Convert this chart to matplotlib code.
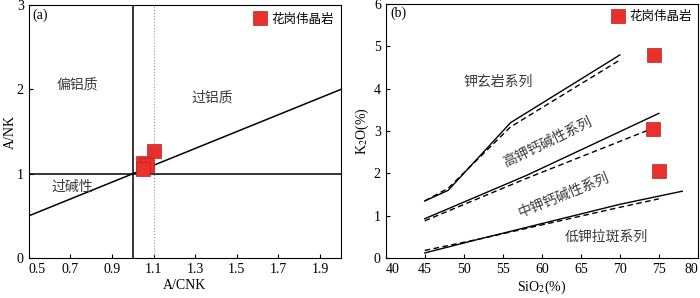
import numpy as np
import matplotlib
matplotlib.use('Agg')
import matplotlib.pyplot as plt

plt.rcParams['font.family'] = ['Liberation Serif', 'Noto Sans CJK SC']
plt.rcParams['mathtext.fontset'] = 'stix'
plt.rcParams['xtick.direction'] = 'in'
plt.rcParams['ytick.direction'] = 'in'

CJK = ['Noto Sans CJK SC', 'DejaVu Sans']
RED = '#e8302c'
TXT = '#3a3a3a'

# (a) A/CNK - A/NK
acnk = [1.10, 1.05, 1.07, 1.05]
anK = [1.27, 1.13, 1.10, 1.06]
a_xticks = [0.5, 0.7, 0.9, 1.1, 1.3, 1.5, 1.7, 1.9]
a_yticks = [0, 1, 2, 3]
# boundary y = x
diag_x = [0.5, 2.0]
diag_y = [0.5, 2.0]

# (b) SiO2 - K2O
sio2 = [74.4, 74.2, 75.0]
k2o = [4.80, 3.04, 2.05]
b_xticks = [40, 45, 50, 55, 60, 65, 70, 75, 80]
b_yticks = [0, 1, 2, 3, 4, 5, 6]

sho_x = [45, 48, 56, 70]
sho_y = [1.35, 1.60, 3.20, 4.80]
sho_dx = [45, 48, 56, 70]
sho_dy = [1.35, 1.65, 3.10, 4.68]

hk_x = [45, 58, 75]
hk_y = [0.93, 1.95, 3.42]
hk_dx = [45, 58, 74]
hk_dy = [0.88, 1.88, 3.05]

lk_x = [45, 52, 70, 78]
lk_y = [0.12, 0.45, 1.27, 1.58]
lk_dx = [45, 52, 70, 75]
lk_dy = [0.18, 0.45, 1.20, 1.40]

fig = plt.figure(figsize=(7.0, 2.98), dpi=100)
ax1 = fig.add_axes([0.041, 0.134, 0.446, 0.849])
ax2 = fig.add_axes([0.551, 0.134, 0.446, 0.852])

# ---- panel a
ax1.axvline(1.0, color='black', lw=1.1)
ax1.axvline(1.1, color='#999999', lw=0.8, ls=':')
ax1.axhline(1.0, color='black', lw=1.1)
ax1.plot(diag_x, diag_y, color='black', lw=1.1)
ax1.plot(acnk, anK, 's', ms=9.5, color=RED, mec='#c02020', mew=0.5,
         label='花岗伟晶岩', zorder=5)
ax1.set_xlim(0.5, 2.0)
ax1.set_ylim(0, 3)
ax1.set_xticks(a_xticks)
ax1.set_yticks(a_yticks)
ax1.set_xticklabels([f'{v:.1f}' for v in a_xticks])
ax1.get_xticklabels()[0].set_ha('left')
ax1.tick_params(labelsize=10, length=3, width=0.8)
ax1.set_xlabel('A/CNK', fontsize=10, labelpad=2)
ax1.set_ylabel('A/NK', fontsize=10)
ax1.yaxis.set_label_coords(-0.038, 0.5)
ax1.text(0.52, 2.88, '(a)', fontsize=10, va='center')
ax1.text(0.735, 2.05, '偏铝质', family=CJK, fontsize=10, color=TXT, ha='center', va='center')
ax1.text(1.38, 1.9, '过铝质', family=CJK, fontsize=10, color=TXT, ha='center', va='center')
ax1.text(0.71, 0.85, '过碱性', family=CJK, fontsize=10, color=TXT, ha='center', va='center')
ax1.legend(loc='upper right', frameon=False, prop={'family': CJK, 'size': 9},
           handletextpad=0.3, borderaxespad=0.2, handlelength=1.2)

# ---- panel b
ax2.plot(sho_x, sho_y, color='black', lw=1.0)
ax2.plot(sho_dx, sho_dy, color='black', lw=1.0, ls=(0, (4, 2.5)))
ax2.plot(hk_x, hk_y, color='black', lw=1.0)
ax2.plot(hk_dx, hk_dy, color='black', lw=1.0, ls=(0, (4, 2.5)))
ax2.plot(lk_x, lk_y, color='black', lw=1.0)
ax2.plot(lk_dx, lk_dy, color='black', lw=1.0, ls=(0, (4, 2.5)))
ax2.plot(sio2, k2o, 's', ms=9.5, color=RED, mec='#c02020', mew=0.5,
         label='花岗伟晶岩', zorder=5)
ax2.set_xlim(40, 80)
ax2.set_ylim(0, 6)
ax2.set_xticks(b_xticks)
ax2.set_yticks(b_yticks)
ax2.get_xticklabels()[0].set_ha('left')
ax2.get_xticklabels()[-1].set_ha('right')
ax2.tick_params(labelsize=10, length=3, width=0.8)
ax2.set_xlabel('SiO$_2$(%)', fontsize=10, labelpad=2)
ax2.set_ylabel('K$_2$O(%)', fontsize=10, labelpad=2)
ax2.text(40.6, 5.78, '(b)', fontsize=10, va='center')
ax2.text(54.4, 4.17, '钾玄岩系列', family=CJK, fontsize=10, color=TXT, ha='center', va='center')
ax2.text(60.7, 2.74, '高钾钙碱性系列', family=CJK, fontsize=10, color=TXT,
         ha='center', va='center', rotation=26)
ax2.text(62.8, 1.48, '中钾钙碱性系列', family=CJK, fontsize=10, color=TXT,
         ha='center', va='center', rotation=22)
ax2.text(68.2, 0.5, '低钾拉斑系列', family=CJK, fontsize=10, color=TXT,
         ha='center', va='center')
ax2.legend(loc='upper right', frameon=False, prop={'family': CJK, 'size': 9},
           handletextpad=0.3, borderaxespad=0.1, handlelength=1.2)

fig.savefig('out.png', dpi=100)
